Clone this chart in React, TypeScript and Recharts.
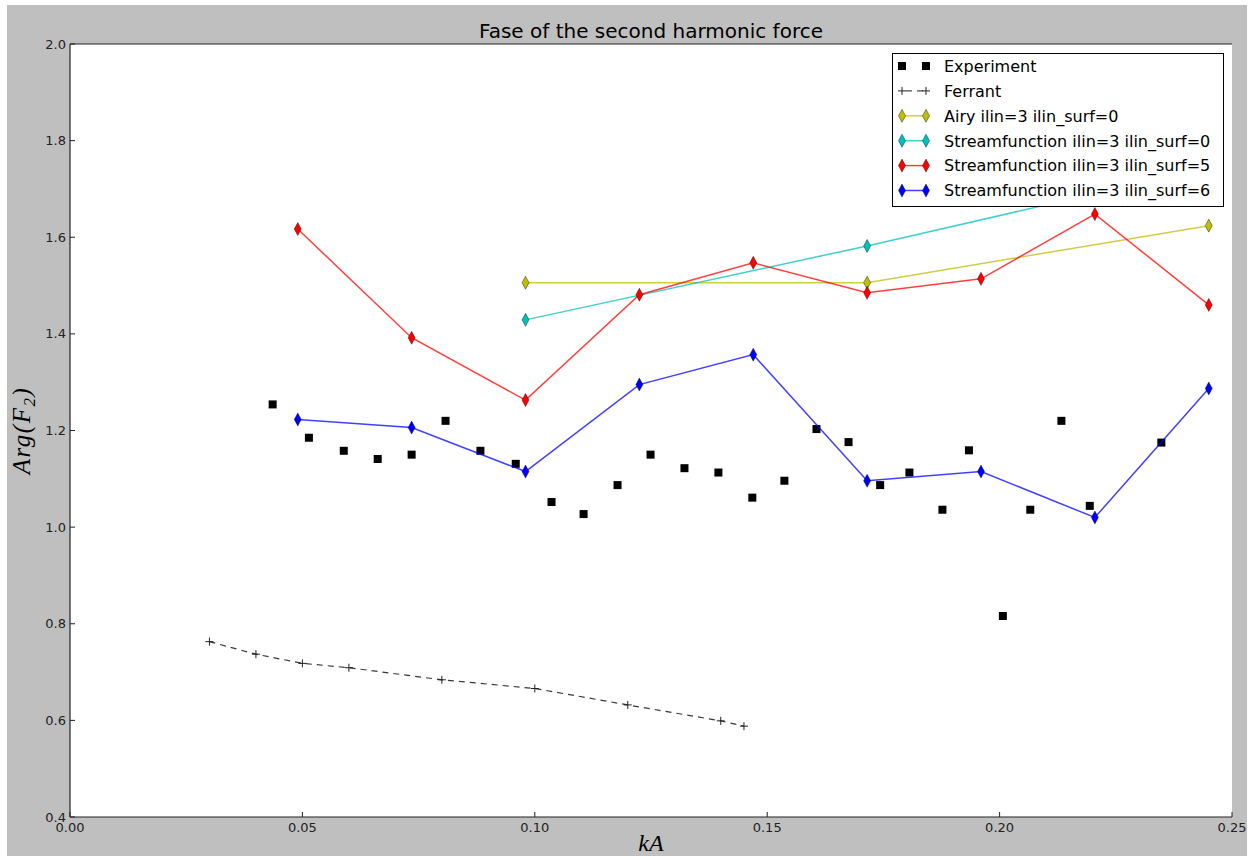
import { ScatterChart, Scatter, XAxis, YAxis, CartesianGrid, Legend } from 'recharts';

// measured phase of the second harmonic force
const experimentKA = [
  0.0436, 0.0514, 0.0589, 0.0662, 0.0735, 0.0808, 0.0883, 0.0959, 0.1036, 0.1105,
  0.1178, 0.1249, 0.1322, 0.1395, 0.1468, 0.1537, 0.1606, 0.1675, 0.1743, 0.1806,
  0.1877, 0.1934, 0.2007, 0.2066, 0.2133, 0.2194, 0.2348,
];
const experimentArg = [
  1.254, 1.185, 1.158, 1.141, 1.15, 1.22, 1.158, 1.131, 1.052, 1.027,
  1.087, 1.15, 1.122, 1.113, 1.061, 1.096, 1.203, 1.176, 1.087, 1.113,
  1.036, 1.159, 0.816, 1.036, 1.22, 1.044, 1.175,
];

const ferrantKA = [0.03, 0.04, 0.05, 0.06, 0.08, 0.1, 0.12, 0.14, 0.145];
const ferrantArg = [0.763, 0.737, 0.718, 0.709, 0.684, 0.666, 0.632, 0.599, 0.588];

const surf0KA = [0.098, 0.1715, 0.245];
const airyArg = [1.506, 1.506, 1.624];
const stream0Arg = [1.429, 1.582, 1.744];

const modelKA = [0.049, 0.0735, 0.098, 0.1225, 0.147, 0.1715, 0.196, 0.2205, 0.245];
const stream5Arg = [1.617, 1.392, 1.263, 1.481, 1.547, 1.485, 1.514, 1.648, 1.46];
const stream6Arg = [1.223, 1.206, 1.115, 1.295, 1.357, 1.096, 1.115, 1.02, 1.287];

const xTicks = [0, 0.05, 0.1, 0.15, 0.2, 0.25];
const yTicks = [0.4, 0.6, 0.8, 1.0, 1.2, 1.4, 1.6, 1.8, 2.0];

const pairs = (xs: number[], ys: number[]) => xs.map((x, i) => ({ x, y: ys[i] }));

const AXIS = '#222';
const TICK_FONT = 'DejaVu Sans, sans-serif';

const YELLOW = '#bfbf00';
const CYAN = '#00bfbf';
const RED = '#ff0000';
const BLUE = '#0000ff';

const Square = ({ cx, cy }: any) => (
  <rect x={cx - 4} y={cy - 4} width={8} height={8} fill="#000" />
);

const Plus = ({ cx, cy }: any) => (
  <path
    d={`M${cx - 4},${cy}H${cx + 4}M${cx},${cy - 4}V${cy + 4}`}
    stroke="#222"
    strokeWidth={1}
    fill="none"
  />
);

const diamond = (color: string) => ({ cx, cy }: any) => (
  <polygon
    points={`${cx},${cy - 6.5} ${cx + 3.5},${cy} ${cx},${cy + 6.5} ${cx - 3.5},${cy}`}
    fill={color}
    stroke="#000"
    strokeWidth={0.4}
  />
);

const BottomTick = ({ x, y, payload }: any) => (
  <g>
    <line x1={x} x2={x} y1={y} y2={y - 5} stroke={AXIS} />
    <text x={x} y={y + 15} textAnchor="middle" fontSize={13} fill="#222" fontFamily={TICK_FONT}>
      {Number(payload.value).toFixed(2)}
    </text>
  </g>
);

const TopTick = ({ x, y }: any) => <line x1={x} x2={x} y1={y} y2={y + 5} stroke={AXIS} />;

const LeftTick = ({ x, y, payload }: any) => (
  <g>
    <line x1={x} x2={x + 5} y1={y} y2={y} stroke={AXIS} />
    <text x={x - 4} y={y + 4.5} textAnchor="end" fontSize={13} fill="#222" fontFamily={TICK_FONT}>
      {Number(payload.value).toFixed(1)}
    </text>
  </g>
);

const RightTick = ({ x, y }: any) => <line x1={x} x2={x - 5} y1={y} y2={y} stroke={AXIS} />;

const ArgLabel = ({ viewBox }: any) => {
  const vb = viewBox ?? { x: 0, y: 39, width: 63, height: 773 };
  const cx = vb.x + 23;
  const cy = vb.y + vb.height / 2;
  return (
    <text
      x={cx}
      y={cy}
      transform={`rotate(-90, ${cx}, ${cy})`}
      textAnchor="middle"
      fontSize={25}
      fontStyle="italic"
      letterSpacing={1.5}
      fontFamily="Liberation Serif, serif"
      fill="#000"
    >
      Arg(F<tspan dy={5} fontSize={17}>2</tspan>
      <tspan dy={-5}>)</tspan>
    </text>
  );
};

type LegendRow = { name: string; kind: 'square' | 'plus' | 'diamond'; color: string };

const legendRows: LegendRow[] = [
  { name: 'Experiment', kind: 'square', color: '#000' },
  { name: 'Ferrant', kind: 'plus', color: '#222' },
  { name: 'Airy ilin=3 ilin_surf=0', kind: 'diamond', color: YELLOW },
  { name: 'Streamfunction ilin=3 ilin_surf=0', kind: 'diamond', color: CYAN },
  { name: 'Streamfunction ilin=3 ilin_surf=5', kind: 'diamond', color: RED },
  { name: 'Streamfunction ilin=3 ilin_surf=6', kind: 'diamond', color: BLUE },
];

const LegendBox = () => (
  <svg width={332} height={154} style={{ display: 'block' }}>
    <rect x={0.5} y={0.5} width={331} height={153} fill="#fff" stroke="#000" strokeWidth={1} />
    {legendRows.map((row, i) => {
      const cy = 13 + i * 24.9;
      const a = 10;
      const b = 34;
      let sample;
      if (row.kind === 'square') {
        sample = (
          <g>
            <Square cx={a} cy={cy} />
            <Square cx={b} cy={cy} />
          </g>
        );
      } else if (row.kind === 'plus') {
        sample = (
          <g>
            <line x1={a} x2={b} y1={cy} y2={cy} stroke="#222" strokeDasharray="6 5" strokeDashoffset={-4} />
            <Plus cx={a} cy={cy} />
            <Plus cx={b} cy={cy} />
          </g>
        );
      } else {
        const D = diamond(row.color);
        sample = (
          <g>
            <line x1={a} x2={b} y1={cy} y2={cy} stroke={row.color} strokeWidth={1.5} strokeOpacity={0.75} />
            <D cx={a} cy={cy} />
            <D cx={b} cy={cy} />
          </g>
        );
      }
      return (
        <g key={row.name}>
          {sample}
          <text x={52} y={cy + 5.8} fontSize={16} fontFamily={TICK_FONT} fill="#000">
            {row.name}
          </text>
        </g>
      );
    })}
  </svg>
);

const lineStyle = (color: string) => ({ stroke: color, strokeWidth: 1.5, strokeOpacity: 0.75 });

export default function App() {
  return (
    <div style={{ position: 'absolute', left: 0, top: 0, width: 1252, height: 856, background: '#fff' }}>
      <div style={{ position: 'absolute', left: 7, top: 5 }}>
        <ScatterChart
          width={1240}
          height={851}
          margin={{ top: 0, right: 15, bottom: 0, left: 0 }}
          style={{ background: '#bfbfbf' }}
        >
          <CartesianGrid fill="#fff" horizontal={false} vertical={false} />
          <XAxis
            dataKey="x"
            type="number"
            domain={[0, 0.25]}
            ticks={xTicks}
            allowDataOverflow
            height={39}
            tickSize={0}
            tickMargin={0}
            tickLine={false}
            axisLine={{ stroke: AXIS, strokeWidth: 1.2 }}
            tick={BottomTick}
            label={{
              value: 'kA',
              position: 'insideBottom',
              offset: 5,
              fontSize: 24,
              fontStyle: 'italic',
              fontFamily: 'Liberation Serif, serif',
              fill: '#000',
            }}
          />
          <XAxis
            xAxisId="top"
            orientation="top"
            type="number"
            domain={[0, 0.25]}
            ticks={xTicks}
            allowDataOverflow
            height={39}
            tickSize={0}
            tickMargin={0}
            tickLine={false}
            axisLine={{ stroke: AXIS, strokeWidth: 1.2 }}
            tick={TopTick}
            label={{
              value: 'Fase of the second harmonic force',
              position: 'insideTop',
              offset: 19,
              fontSize: 20,
              fontFamily: TICK_FONT,
              fill: '#000',
            }}
          />
          <YAxis
            dataKey="y"
            type="number"
            domain={[0.4, 2.0]}
            ticks={yTicks}
            allowDataOverflow
            width={63}
            tickSize={0}
            tickMargin={0}
            tickLine={false}
            axisLine={{ stroke: AXIS, strokeWidth: 1.2 }}
            tick={LeftTick}
            label={{ content: ArgLabel }}
          />
          <YAxis
            yAxisId="right"
            orientation="right"
            type="number"
            domain={[0.4, 2.0]}
            ticks={yTicks}
            allowDataOverflow
            width={0}
            tickSize={0}
            tickMargin={0}
            tickLine={false}
            axisLine={{ stroke: AXIS, strokeWidth: 1.2 }}
            tick={RightTick}
          />

          <Scatter
            name="Experiment"
            data={pairs(experimentKA, experimentArg)}
            fill="#000"
            shape={Square}
            isAnimationActive={false}
          />
          <Scatter
            name="Ferrant"
            data={pairs(ferrantKA, ferrantArg)}
            fill="#222"
            line={{ stroke: '#222', strokeWidth: 1.2, strokeDasharray: '6 5', strokeOpacity: 0.9 }}
            shape={Plus}
            isAnimationActive={false}
          />
          <Scatter
            name="Airy ilin=3 ilin_surf=0"
            data={pairs(surf0KA, airyArg)}
            fill={YELLOW}
            line={lineStyle(YELLOW)}
            shape={diamond(YELLOW)}
            isAnimationActive={false}
          />
          <Scatter
            name="Streamfunction ilin=3 ilin_surf=0"
            data={pairs(surf0KA, stream0Arg)}
            fill={CYAN}
            line={lineStyle(CYAN)}
            shape={diamond(CYAN)}
            isAnimationActive={false}
          />
          <Scatter
            name="Streamfunction ilin=3 ilin_surf=5"
            data={pairs(modelKA, stream5Arg)}
            fill={RED}
            line={lineStyle(RED)}
            shape={diamond(RED)}
            isAnimationActive={false}
          />
          <Scatter
            name="Streamfunction ilin=3 ilin_surf=6"
            data={pairs(modelKA, stream6Arg)}
            fill={BLUE}
            line={lineStyle(BLUE)}
            shape={diamond(BLUE)}
            isAnimationActive={false}
          />

          <Legend
            layout="vertical"
            align="center"
            verticalAlign="middle"
            content={LegendBox}
            wrapperStyle={{ position: 'absolute', left: 885, top: 48, width: 332, height: 154 }}
          />
        </ScatterChart>
      </div>
    </div>
  );
}
